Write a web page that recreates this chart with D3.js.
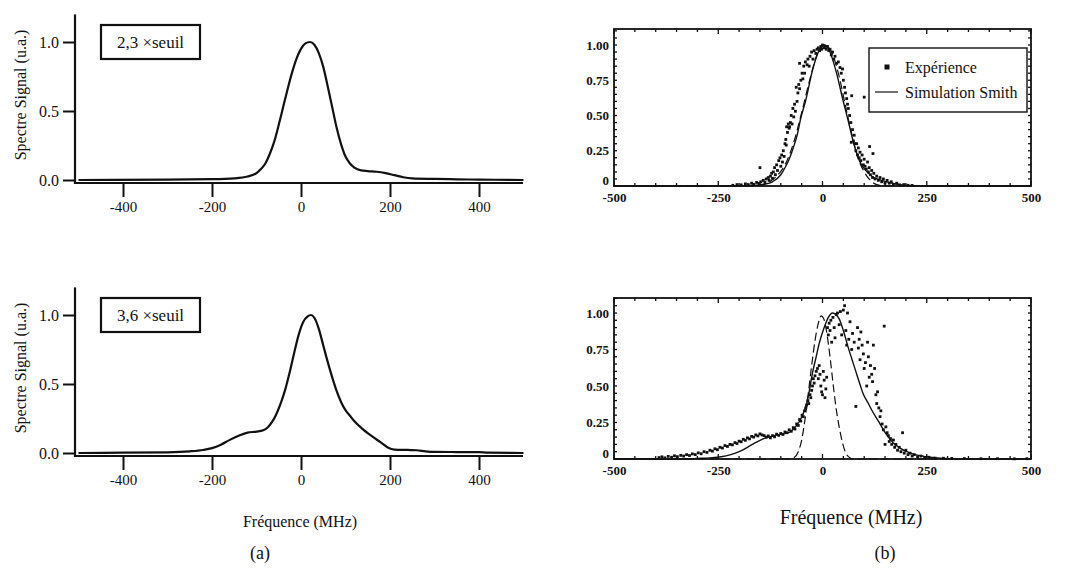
<!DOCTYPE html>
<html><head><meta charset="utf-8">
<script src="https://cdn.jsdelivr.net/npm/d3@7"></script>
<style>body{margin:0;background:#fff}svg{display:block}text{font-family:"Liberation Serif","Times New Roman","DejaVu Serif",serif;fill:#111}</style>
</head><body><svg id="c" width="1083" height="572"></svg>
<script>
// ---------- data ----------
const xTicksA = [-400, -200, 0, 200, 400];
const yTicksA = [0.0, 0.5, 1.0];
const xTicksB = [-500, -250, 0, 250, 500];
const yTicksB = [0, 0.25, 0.5, 0.75, 1.0];
const labelsA = ["2,3 \u00d7seuil", "3,6 \u00d7seuil"];

// (a) top : 2,3 x seuil
const spectre23 = [[-500,0],[-300,0.003],[-200,0.006],[-150,0.012],[-120,0.025],[-100,0.05],[-90,0.08],[-80,0.12],[-70,0.19],[-60,0.28],[-50,0.4],[-40,0.53],[-30,0.66],[-20,0.78],[-10,0.88],[0,0.95],[10,0.99],[20,1.0],[30,0.98],[40,0.92],[50,0.82],[60,0.68],[70,0.53],[80,0.38],[90,0.26],[100,0.17],[110,0.12],[120,0.09],[135,0.07],[150,0.065],[170,0.06],[190,0.05],[210,0.035],[230,0.02],[250,0.012],[300,0.008],[350,0.005],[400,0.003],[500,0]];
// (a) bottom : 3,6 x seuil
const spectre36 = [[-500,0],[-400,0.002],[-300,0.005],[-250,0.012],[-220,0.022],[-200,0.035],[-180,0.06],[-160,0.095],[-140,0.125],[-120,0.148],[-100,0.155],[-85,0.165],[-75,0.185],[-65,0.225],[-55,0.285],[-45,0.365],[-35,0.465],[-25,0.59],[-15,0.73],[-5,0.86],[5,0.95],[15,0.99],[22,1.0],[30,0.98],[40,0.9],[50,0.78],[60,0.66],[70,0.55],[80,0.45],[90,0.37],[100,0.31],[110,0.27],[120,0.23],[140,0.17],[160,0.12],[180,0.075],[195,0.04],[210,0.025],[240,0.022],[260,0.02],[280,0.012],[300,0.008],[400,0.006],[420,0.002],[500,0]];

// (b) top
const simTop = [[-500,0],[-200,0],[-160,0.005],[-140,0.012],[-120,0.03],[-100,0.08],[-89,0.135],[-80,0.19],[-69,0.28],[-60,0.37],[-53,0.47],[-40,0.61],[-24,0.82],[-10,0.95],[4,1.0],[15,0.97],[32,0.82],[49,0.61],[61,0.47],[77,0.28],[90,0.17],[97,0.135],[110,0.09],[121,0.064],[140,0.042],[154,0.03],[170,0.018],[186,0.01],[218,0.002],[250,0],[500,0]];
const dashTop = [[-500,0],[-170,0],[-150,0.005],[-130,0.025],[-110,0.07],[-90,0.15],[-70,0.3],[-50,0.52],[-30,0.76],[-12,0.94],[5,1.0],[20,0.96],[38,0.8],[55,0.57],[70,0.37],[85,0.2],[100,0.1],[115,0.04],[130,0.01],[150,0],[500,0]];
const expTop = [[-215,0.005],[-205,0.01],[-195,0.008],[-185,0.015],[-178,0.01],[-170,0.02],[-165,0.012],[-158,0.025],[-152,0.018],[-150,0.13],[-148,0.03],[-142,0.04],[-138,0.025],[-135,0.05],[-130,0.06],[-128,0.04],[-125,0.07],[-122,0.09],[-120,0.055],[-118,0.1],[-115,0.13],[-113,0.08],[-110,0.15],[-108,0.11],[-105,0.18],[-102,0.2],[-100,0.14],[-98,0.22],[-96,0.17],[-94,0.25],[-92,0.21],[-90,0.3],[-88,0.33],[-87,0.29],[-86,0.42],[-84,0.38],[-82,0.44],[-80,0.41],[-79,0.42],[-77,0.45],[-75,0.5],[-73,0.44],[-71,0.55],[-69,0.49],[-67,0.58],[-65,0.53],[-63,0.7],[-61,0.6],[-59,0.66],[-57,0.72],[-55,0.69],[-55,0.87],[-52,0.75],[-49,0.8],[-47,0.76],[-45,0.85],[-43,0.8],[-41,0.88],[-37,0.86],[-35,0.9],[-32,0.85],[-30,0.92],[-26,0.95],[-23,0.9],[-20,0.96],[-16,0.94],[-13,0.97],[-10,0.98],[-7,0.96],[-4,0.99],[-2,0.97],[0,1.0],[3,0.98],[6,0.99],[9,0.97],[12,0.99],[15,0.96],[18,0.97],[21,0.93],[24,0.95],[27,0.9],[30,0.92],[34,0.87],[38,0.88],[42,0.84],[45,0.8],[48,0.83],[50,0.75],[53,0.7],[55,0.66],[58,0.62],[60,0.58],[62,0.55],[65,0.5],[68,0.45],[69,0.31],[70,0.64],[72,0.4],[74,0.32],[76,0.36],[78,0.3],[80,0.25],[82,0.3],[84,0.22],[86,0.27],[88,0.2],[90,0.24],[92,0.18],[95,0.22],[98,0.15],[100,0.19],[100,0.63],[102,0.14],[105,0.12],[108,0.17],[110,0.1],[112,0.13],[113,0.28],[115,0.08],[118,0.11],[120,0.06],[121,0.23],[123,0.09],[126,0.05],[130,0.07],[134,0.04],[138,0.06],[142,0.03],[146,0.05],[150,0.02],[155,0.04],[160,0.02],[165,0.03],[170,0.01],[178,0.02],[185,0.008],[195,0.01],[205,0.005],[215,0.004]];

// (b) bottom
const simBot = [[-500,0],[-330,0],[-300,0.004],[-270,0.008],[-243,0.015],[-220,0.03],[-200,0.05],[-180,0.08],[-162,0.11],[-145,0.135],[-129,0.15],[-113,0.162],[-95,0.172],[-81,0.18],[-68,0.21],[-57,0.25],[-48,0.3],[-40,0.36],[-32,0.46],[-24,0.59],[-16,0.69],[-8,0.79],[4,0.9],[14,0.97],[24,1.0],[32,0.99],[40,0.96],[50,0.88],[61,0.77],[71,0.68],[81,0.59],[90,0.51],[97,0.45],[110,0.38],[121,0.32],[134,0.26],[146,0.2],[158,0.15],[170,0.11],[186,0.075],[202,0.05],[222,0.03],[243,0.018],[265,0.01],[283,0.005],[310,0.001],[330,0],[500,0]];
const dashBot = [[-500,0],[-80,0],[-68,0.01],[-58,0.05],[-50,0.13],[-42,0.27],[-34,0.45],[-26,0.64],[-18,0.81],[-10,0.93],[-3,0.98],[3,0.96],[10,0.87],[18,0.7],[26,0.5],[33,0.34],[40,0.22],[48,0.11],[56,0.04],[64,0.012],[72,0],[500,0]];
const expBot = [[-392,0.01],[-385,0.015],[-378,0.008],[-370,0.018],[-362,0.012],[-355,0.022],[-348,0.016],[-340,0.025],[-333,0.02],[-326,0.03],[-319,0.024],[-312,0.035],[-305,0.03],[-298,0.042],[-291,0.036],[-284,0.05],[-277,0.045],[-270,0.06],[-264,0.054],[-258,0.07],[-252,0.064],[-246,0.08],[-240,0.075],[-234,0.092],[-228,0.086],[-222,0.1],[-216,0.097],[-210,0.112],[-205,0.106],[-200,0.122],[-195,0.118],[-190,0.135],[-185,0.128],[-180,0.145],[-175,0.138],[-170,0.155],[-165,0.15],[-160,0.165],[-155,0.158],[-150,0.172],[-145,0.165],[-140,0.16],[-135,0.15],[-130,0.158],[-125,0.145],[-120,0.16],[-115,0.152],[-110,0.17],[-105,0.162],[-100,0.175],[-95,0.168],[-90,0.185],[-85,0.18],[-80,0.2],[-75,0.19],[-70,0.215],[-66,0.205],[-62,0.24],[-58,0.23],[-55,0.27],[-52,0.26],[-49,0.3],[-46,0.29],[-43,0.33],[-40,0.35],[-38,0.37],[-35,0.4],[-33,0.38],[-30,0.44],[-28,0.42],[-26,0.47],[-24,0.5],[-22,0.55],[-20,0.52],[-18,0.57],[-15,0.6],[-12,0.62],[-10,0.55],[-8,0.64],[-6,0.58],[-4,0.5],[-2,0.46],[0,0.44],[2,0.6],[4,0.54],[6,0.42],[8,0.48],[10,0.56],[12,0.9],[14,0.85],[16,0.93],[18,0.88],[20,0.95],[22,0.8],[25,0.97],[28,0.9],[30,0.83],[33,0.99],[36,1.0],[40,0.92],[43,1.01],[46,0.85],[50,1.02],[53,1.05],[56,0.88],[58,0.78],[60,1.0],[63,0.82],[66,0.94],[70,0.75],[72,0.86],[76,0.8],[80,0.36],[84,0.9],[86,0.76],[88,0.82],[90,0.68],[92,0.87],[95,0.78],[98,0.72],[100,0.62],[103,0.66],[106,0.5],[108,0.8],[110,0.7],[112,0.56],[115,0.64],[118,0.58],[120,0.53],[122,0.78],[125,0.62],[128,0.44],[130,0.38],[132,0.46],[135,0.35],[138,0.29],[140,0.33],[143,0.24],[146,0.2],[148,0.91],[150,0.1],[152,0.22],[155,0.18],[158,0.16],[160,0.12],[163,0.14],[166,0.1],[170,0.13],[173,0.08],[176,0.1],[180,0.06],[184,0.08],[188,0.05],[192,0.18],[196,0.04],[200,0.06],[205,0.03],[210,0.04],[215,0.02],[220,0.03],[228,0.015],[236,0.02],[245,0.01],[255,0.012],[270,0.006],[290,0.005],[310,0.004],[340,0.003],[380,0.002],[420,0.002],[460,0.001],[490,0.002]];

const legendItems = ["Exp\u00e9rience", "Simulation Smith"];

// ---------- drawing ----------
const svg = d3.select("#c");
const SERIF = '"Liberation Serif","Times New Roman","DejaVu Serif",serif';
const plain = d => String(d);

function panelA(y0, series, label, showXLabel) {
  const x = d3.scaleLinear().domain([-500, 500]).range([78.5, 523.5]);
  const y = d3.scaleLinear().domain([0, 1.2]).range([y0, y0 - 165.6]);
  const g = svg.append("g");
  const ax = g.append("g").attr("transform", `translate(0,${y0 + 3})`)
    .call(d3.axisBottom(x).tickValues(xTicksA).tickSize(14).tickSizeOuter(0).tickPadding(4).tickFormat(plain));
  ax.attr("font-family", null);
  ax.select(".domain").remove();
  ax.selectAll(".tick line").attr("stroke", "#111").attr("stroke-width", 2);
  ax.selectAll(".tick text").style("font-size", "15px").style("font-family", SERIF).attr("fill", "#111");
  g.append("line").attr("x1", 74).attr("x2", 523).attr("y1", y0 + 3).attr("y2", y0 + 3).attr("stroke", "#111").attr("stroke-width", 2.2);
  const ay = g.append("g").attr("transform", `translate(75,0)`)
    .call(d3.axisLeft(y).tickValues(yTicksA).tickSize(12).tickPadding(4).tickFormat(d3.format(".1f")));
  ay.attr("font-family", null);
  ay.select(".domain").remove();
  ay.selectAll(".tick line").attr("stroke", "#111").attr("stroke-width", 2);
  ay.selectAll(".tick text").style("font-size", "16px").style("font-family", SERIF).attr("fill", "#111");
  g.append("line").attr("x1", 75).attr("x2", 75).attr("y1", y(1.2)).attr("y2", y0 + 4).attr("stroke", "#111").attr("stroke-width", 2.2);
  g.append("path").datum(series)
    .attr("d", d3.line().x(d => x(d[0])).y(d => y(d[1])).curve(d3.curveMonotoneX))
    .attr("fill", "none").attr("stroke", "#111").attr("stroke-width", 2.2);
  // label box
  const by = y0 - 155;
  g.append("rect").attr("x", 101).attr("y", by).attr("width", 99).attr("height", 34)
    .attr("fill", "#fff").attr("stroke", "#111").attr("stroke-width", 2.2);
  g.append("text").attr("x", 150.5).attr("y", by + 17).attr("text-anchor", "middle").attr("dominant-baseline", "central")
    .style("font-size", "17px").text(label);
  // y label
  g.append("text").attr("transform", `translate(20,${y0 - 85}) rotate(-90)`).attr("text-anchor", "middle")
    .attr("dominant-baseline", "central").style("font-size", "16px").text("Spectre Signal (u.a.)");
  if (showXLabel) {
    g.append("text").attr("x", 300).attr("y", 521).attr("text-anchor", "middle").attr("dominant-baseline", "central")
      .style("font-size", "16px").text("Fr\u00e9quence (MHz)");
  }
}

function panelB(y0, top, sim, dash, exp, withLegend) {
  const x = d3.scaleLinear().domain([-500, 500]).range([614, 1031]);
  const yMax = (y0 - top) / (y0 === 186 ? 141 : 146);
  const y = d3.scaleLinear().domain([0, yMax]).range([y0, top]);
  const g = svg.append("g");
  // minor inner ticks
  const tx = d3.range(-500, 501, 50);
  const ty = d3.range(0, yMax, 0.05);
  g.selectAll(null).data(tx).join("line")
    .attr("x1", d => x(d)).attr("x2", d => x(d)).attr("y1", y0).attr("y2", d => y0 - (d % 250 === 0 ? 5 : 3))
    .attr("stroke", "#111").attr("stroke-width", 1.3);
  g.selectAll(null).data(tx).join("line")
    .attr("x1", d => x(d)).attr("x2", d => x(d)).attr("y1", top).attr("y2", d => top + (d % 250 === 0 ? 5 : 3))
    .attr("stroke", "#111").attr("stroke-width", 1.3);
  g.selectAll(null).data(ty).join("line")
    .attr("x1", 614).attr("x2", 617).attr("y1", d => y(d)).attr("y2", d => y(d))
    .attr("stroke", "#111").attr("stroke-width", 1.3);
  g.selectAll(null).data(ty).join("line")
    .attr("x1", 1031).attr("x2", 1028).attr("y1", d => y(d)).attr("y2", d => y(d))
    .attr("stroke", "#111").attr("stroke-width", 1.3);
  // axes labels via d3 axes
  const ax = g.append("g").attr("transform", `translate(0,${y0})`)
    .call(d3.axisBottom(x).tickValues(xTicksB).tickSize(0).tickPadding(7).tickFormat(plain));
  ax.attr("font-family", null);
  ax.select(".domain").remove();
  ax.selectAll(".tick text").style("font-size", "13px").style("font-weight", "bold").style("font-family", SERIF).attr("fill", "#111");
  const ay = g.append("g").attr("transform", `translate(614,0)`)
    .call(d3.axisLeft(y).tickValues(yTicksB).tickSize(0).tickPadding(5).tickFormat(d => d === 0 ? "0" : d3.format(".2f")(d)));
  ay.attr("font-family", null);
  ay.select(".domain").remove();
  ay.selectAll(".tick text").style("font-size", "13px").style("font-weight", "bold").style("font-family", SERIF).attr("fill", "#111");
  ay.selectAll(".tick").filter(d => d === 0).select("text").attr("dy", "-0.1em");
  // curves
  const line = d3.line().x(d => x(d[0])).y(d => y(d[1])).curve(d3.curveMonotoneX);
  g.append("path").datum(dash).attr("d", line).attr("fill", "none").attr("stroke", "#111")
    .attr("stroke-width", 1.2).attr("stroke-dasharray", "8,4");
  g.append("path").datum(sim).attr("d", line).attr("fill", "none").attr("stroke", "#111").attr("stroke-width", 1.4);
  g.selectAll(null).data(exp).join("rect")
    .attr("x", d => x(d[0]) - 1.4).attr("y", d => y(d[1]) - 1.4).attr("width", 2.8).attr("height", 2.8).attr("fill", "#111");
  // frame
  g.append("rect").attr("x", 614).attr("y", top).attr("width", 417).attr("height", y0 - top)
    .attr("fill", "none").attr("stroke", "#111").attr("stroke-width", 1.8);
  if (withLegend) {
    const lg = g.append("g");
    lg.append("rect").attr("x", 869).attr("y", 48).attr("width", 158).attr("height", 64)
      .attr("fill", "#fff").attr("stroke", "#111").attr("stroke-width", 1.4);
    lg.append("rect").attr("x", 884.5).attr("y", 64.5).attr("width", 5).attr("height", 5).attr("fill", "#111");
    lg.append("line").attr("x1", 875).attr("x2", 898).attr("y1", 92).attr("y2", 92).attr("stroke", "#111").attr("stroke-width", 1.2);
    lg.selectAll(null).data(legendItems).join("text")
      .attr("x", 905).attr("y", (d, i) => 67 + i * 25).attr("dominant-baseline", "central")
      .style("font-size", "16px").text(d => d);
  }
}

panelA(180, spectre23, labelsA[0], false);
panelA(453, spectre36, labelsA[1], true);
panelB(186, 29, simTop, dashTop, expTop, true);
panelB(459, 298, simBot, dashBot, expBot, false);

svg.append("text").attr("x", 851).attr("y", 517).attr("text-anchor", "middle").attr("dominant-baseline", "central")
  .style("font-size", "20px").text("Fr\u00e9quence (MHz)");
svg.append("text").attr("x", 260).attr("y", 553).attr("text-anchor", "middle").attr("dominant-baseline", "central")
  .style("font-size", "18px").text("(a)");
svg.append("text").attr("x", 885).attr("y", 553).attr("text-anchor", "middle").attr("dominant-baseline", "central")
  .style("font-size", "18px").text("(b)");
</script></body></html>
